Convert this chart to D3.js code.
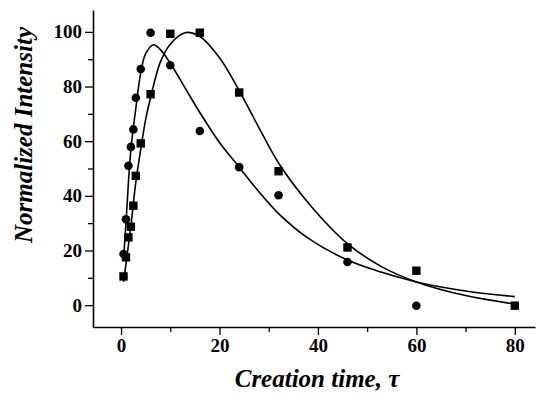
<html>
<head>
<style>
  body { margin: 0; background: #fff; }
  text { font-family: "Liberation Serif", "Times New Roman", serif; }
</style>
</head>
<body>
<svg id="chart" width="543" height="393"></svg>
<script src="https://cdn.jsdelivr.net/npm/d3@7"></script>
<script>
// measured points (circles)
let circleT = [0.5, 1, 1.5, 2, 2.5, 3, 4, 6, 10, 16, 24, 32, 46, 60]
let circleI = [18.7, 31.4, 51, 57.9, 64.3, 75.9, 86.4, 99.7, 87.8, 63.7, 50.5, 40.2, 15.8, -0.2]

// measured points (squares)
let squareT = [0.5, 1, 1.5, 2, 2.5, 3, 4, 6, 10, 16, 24, 32, 46, 60, 80]
let squareI = [10.5, 17.5, 24.8, 28.7, 36.4, 47.3, 59.2, 77.2, 99.3, 99.7, 77.8, 49, 21.1, 12.6, -0.2]

// fitted curves
let circleFitT = [0.5, 1, 1.5, 2, 2.5, 3, 4, 5, 6.6, 8, 10, 13, 16, 20, 24, 28, 32, 38, 46, 53, 60, 70, 80]
let circleFitI = [17, 30, 45, 57, 65, 72, 85, 92, 95.3, 93.5, 88.5, 79.5, 70.5, 59.5, 50.5, 41.5, 33.5, 24.5, 16.5, 12, 8.5, 5.2, 3.1]

let squareFitT = [0.5, 1, 1.5, 2, 3, 4, 5, 6, 8, 10, 13, 16, 20, 24, 28, 32, 38, 46, 53, 60, 70, 80]
let squareFitI = [8.5, 15, 22, 29, 45, 57, 68, 76, 89, 95.5, 99.7, 98.3, 90.5, 78.5, 65, 52, 37.5, 22.5, 14, 8.5, 3.5, 0.4]

let xMajor = [0, 20, 40, 60, 80]
let xMinor = [10, 30, 50, 70]
let yMajor = [0, 20, 40, 60, 80, 100]
let yMinor = [10, 30, 50, 70, 90]

let svg = d3.select("#chart")

let x = d3.scaleLinear().domain([-5.7, 84.1]).range([93, 535])
let y = d3.scaleLinear().domain([-8, 108]).range([327, 10])

// x axis
let gx = svg.append("g").attr("transform", "translate(0,327)")
gx.call(d3.axisBottom(x).tickValues(xMajor).tickSize(8).tickSizeOuter(0).tickPadding(4))
gx.append("g").call(d3.axisBottom(x).tickValues(xMinor).tickSize(5).tickFormat("").tickSizeOuter(0))
  .select(".domain").remove()

// y axis
let gy = svg.append("g").attr("transform", "translate(93,0)")
gy.call(d3.axisLeft(y).tickValues(yMajor).tickSize(8).tickSizeOuter(0).tickPadding(3))
gy.append("g").call(d3.axisLeft(y).tickValues(yMinor).tickSize(5).tickFormat("").tickSizeOuter(0))
  .select(".domain").remove()

svg.selectAll(".domain").attr("stroke", "#000").attr("stroke-width", 1.6)
svg.selectAll(".tick line").attr("stroke", "#000").attr("stroke-width", 1.3)
svg.selectAll(".tick text")
  .attr("fill", "#000")
  .style("font-family", "'Liberation Serif', serif")
  .style("font-size", "19px")
  .style("font-weight", "bold")

// curves
let line = d3.line()
  .x(d => x(d[0]))
  .y(d => y(d[1]))
  .curve(d3.curveCatmullRom.alpha(0.5))

svg.append("path")
  .datum(circleFitT.map((t, i) => [t, circleFitI[i]]))
  .attr("d", line)
  .attr("fill", "none").attr("stroke", "#000").attr("stroke-width", 1.6)

svg.append("path")
  .datum(squareFitT.map((t, i) => [t, squareFitI[i]]))
  .attr("d", line)
  .attr("fill", "none").attr("stroke", "#000").attr("stroke-width", 1.6)

// markers
svg.selectAll("circle.pt")
  .data(circleT.map((t, i) => [t, circleI[i]]))
  .enter().append("circle")
  .attr("class", "pt")
  .attr("cx", d => x(d[0]))
  .attr("cy", d => y(d[1]))
  .attr("r", 4.3)
  .attr("fill", "#000")

svg.selectAll("rect.pt")
  .data(squareT.map((t, i) => [t, squareI[i]]))
  .enter().append("rect")
  .attr("class", "pt")
  .attr("x", d => x(d[0]) - 4.2)
  .attr("y", d => y(d[1]) - 4.2)
  .attr("width", 8.4)
  .attr("height", 8.4)
  .attr("fill", "#000")

// axis titles
svg.append("text")
  .attr("x", 317)
  .attr("y", 387)
  .attr("text-anchor", "middle")
  .style("font-size", "25px")
  .style("font-weight", "bold")
  .style("font-style", "italic")
  .text("Creation time, τ")

svg.append("text")
  .attr("transform", "translate(32,135) rotate(-90)")
  .attr("text-anchor", "middle")
  .style("font-size", "25px")
  .style("font-weight", "bold")
  .style("font-style", "italic")
  .text("Normalized Intensity")
</script>
</body>
</html>
